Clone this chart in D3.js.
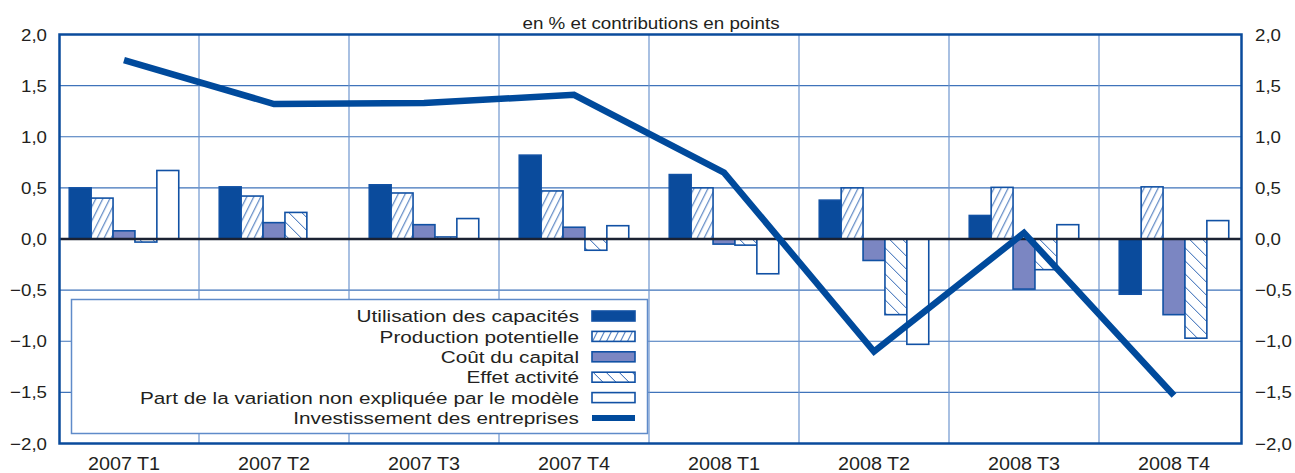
<!doctype html>
<html lang="fr">
<head>
<meta charset="utf-8">
<title>Investissement des entreprises</title>
<script src="https://d3js.org/d3.v7.min.js"></script>
<style>
    body { margin: 0; background: #fff; }
    svg text { font-family: "Liberation Sans", Arial, sans-serif; fill: #231f20; }
    .grid line { stroke: #3f73ba; stroke-width: 1.2px; }
    .vgrid line { stroke: #6f96cf; stroke-width: 1.2px; }
</style>
</head>
<body>
<svg width="1295" height="473"></svg>
<script>
// categories and series (en % et contributions en points)
var categories = ["2007 T1", "2007 T2", "2007 T3", "2007 T4", "2008 T1", "2008 T2", "2008 T3", "2008 T4"];
var series = ["Utilisation des capacités", "Production potentielle", "Coût du capital", "Effet activité",
              "Part de la variation non expliquée par le modèle", "Investissement des entreprises"];

var utilisation = [0.50, 0.51, 0.53, 0.82, 0.63, 0.38, 0.23, -0.54];
var production  = [0.40, 0.42, 0.45, 0.47, 0.50, 0.50, 0.505, 0.51];
var coutCapital = [0.08, 0.16, 0.14, 0.115, -0.05, -0.21, -0.49, -0.74];
var effetActivite = [-0.03, 0.26, 0.02, -0.11, -0.06, -0.74, -0.30, -0.97];
var nonExpliquee = [0.67, 0.0, 0.20, 0.13, -0.34, -1.03, 0.14, 0.18];
var investissement = [1.75, 1.32, 1.33, 1.41, 0.65, -1.10, 0.06, -1.53];

var yTicks = [-2, -1.5, -1, -0.5, 0, 0.5, 1, 1.5, 2];

var barSeries = [utilisation, production, coutCapital, effetActivite, nonExpliquee];
var blue = "#0a4b9c";
var fills = [blue, "url(#hatchUp)", "#7b86c2", "url(#hatchDown)", "#fff"];

var svg = d3.select("svg");
var plot = {left: 59.5, right: 1241.5, top: 34.5, bottom: 443.5};

var xScale = d3.scaleBand()
    .domain(categories)
    .range([49, 1249])
    .paddingInner(0.27)
    .paddingOuter(0.135);

var x1 = d3.scaleBand()
    .domain(d3.range(barSeries.length))
    .range([0, xScale.bandwidth()]);

var yScale = d3.scaleLinear()
    .domain([-2, 2])
    .range([plot.bottom, plot.top]);

var fmt = function(d) { return d3.format(".1f")(d).replace(".", ",").replace("-", "\u2212"); };

// the source lettering is a little wider than Liberation Sans, so stretch it
function place(x, y, sx) {
    return "translate(" + x + "," + y + ") scale(" + sx + ",1)";
}

// hatch patterns
var defs = svg.append("defs");
var pUp = defs.append("pattern")
    .attr("id", "hatchUp")
    .attr("patternUnits", "userSpaceOnUse")
    .attr("width", 7).attr("height", 14);
pUp.append("rect").attr("width", 7).attr("height", 14).attr("fill", "#fff");
pUp.append("path")
    .attr("d", "M0,14 L7,0 M-3.5,7 L0,0 M7,14 L10.5,7")
    .attr("stroke", "#2a62b2").attr("stroke-width", 1);

var pDown = defs.append("pattern")
    .attr("id", "hatchDown")
    .attr("patternUnits", "userSpaceOnUse")
    .attr("width", 13).attr("height", 13);
pDown.append("rect").attr("width", 13).attr("height", 13).attr("fill", "#fff");
pDown.append("path")
    .attr("d", "M0,0 L13,13 M-6.5,6.5 L0,13 M6.5,-6.5 L13,0")
    .attr("stroke", "#2a62b2").attr("stroke-width", 1);

// title
svg.append("text")
    .attr("transform", place(651, 29, 1.14))
    .attr("text-anchor", "middle")
    .style("font-size", "16.5px")
    .text("en % et contributions en points");

// horizontal grid
svg.append("g")
    .attr("class", "grid")
    .selectAll("line")
    .data(yTicks)
    .enter().append("line")
    .attr("x1", plot.left).attr("x2", plot.right)
    .attr("y1", function(d) { return yScale(d); })
    .attr("y2", function(d) { return yScale(d); });

// vertical grid between categories
svg.append("g")
    .attr("class", "vgrid")
    .selectAll("line")
    .data(categories.slice(0, -1))
    .enter().append("line")
    .attr("x1", function(d) { return xScale(d) + xScale.bandwidth() / 2 + xScale.step() / 2; })
    .attr("x2", function(d) { return xScale(d) + xScale.bandwidth() / 2 + xScale.step() / 2; })
    .attr("y1", plot.top).attr("y2", plot.bottom);

// bars
var groups = svg.append("g")
    .selectAll("g")
    .data(categories)
    .enter().append("g")
    .attr("transform", function(d) { return "translate(" + xScale(d) + ",0)"; });

groups.selectAll("rect")
    .data(function(d, i) { return barSeries.map(function(s, k) { return {k: k, v: s[i]}; }); })
    .enter().append("rect")
    .attr("x", function(d) { return x1(d.k); })
    .attr("width", x1.bandwidth())
    .attr("y", function(d) { return yScale(Math.max(0, d.v)); })
    .attr("height", function(d) { return Math.abs(yScale(d.v) - yScale(0)); })
    .attr("fill", function(d) { return fills[d.k]; })
    .attr("stroke", function(d) { return d.v === 0 ? "none" : "#1151a4"; })
    .attr("stroke-width", 1.6);

// zero line
svg.append("line")
    .attr("x1", plot.left).attr("x2", plot.right)
    .attr("y1", yScale(0)).attr("y2", yScale(0))
    .attr("stroke", "#1b2233").attr("stroke-width", 2.5);

// investment line
var line = d3.line()
    .x(function(d, i) { return xScale(categories[i]) + xScale.bandwidth() / 2; })
    .y(function(d) { return yScale(d); });

svg.append("path")
    .datum(investissement)
    .attr("fill", "none")
    .attr("stroke", "#004a9c")
    .attr("stroke-width", 6.5)
    .attr("stroke-linejoin", "miter")
    .attr("d", line);

// frame
svg.append("rect")
    .attr("x", plot.left).attr("y", plot.top)
    .attr("width", plot.right - plot.left)
    .attr("height", plot.bottom - plot.top)
    .attr("fill", "none")
    .attr("stroke", blue)
    .attr("stroke-width", 2.5);

// y tick labels, both sides
svg.append("g")
    .selectAll("text")
    .data(yTicks)
    .enter().append("text")
    .attr("transform", function(d) { return place(47, yScale(d), 1.1); })
    .attr("dy", "0.36em")
    .attr("text-anchor", "end")
    .style("font-size", "17px")
    .text(fmt);

svg.append("g")
    .selectAll("text")
    .data(yTicks)
    .enter().append("text")
    .attr("transform", function(d) { return place(1255, yScale(d), 1.1); })
    .attr("dy", "0.36em")
    .attr("text-anchor", "start")
    .style("font-size", "17px")
    .text(fmt);

// x labels
svg.append("g")
    .selectAll("text")
    .data(categories)
    .enter().append("text")
    .attr("transform", function(d) { return place(xScale(d) + xScale.bandwidth() / 2, 469.5, 1.04); })
    .attr("text-anchor", "middle")
    .style("font-size", "19px")
    .text(function(d) { return d; });

// legend
var lg = svg.append("g");
lg.append("rect")
    .attr("x", 71.5).attr("y", 299.5)
    .attr("width", 576).attr("height", 134)
    .attr("fill", "#fff")
    .attr("stroke", "#5f8bc9")
    .attr("stroke-width", 1.5);

var items = lg.selectAll("g.item")
    .data(series)
    .enter().append("g")
    .attr("class", "item")
    .attr("transform", function(d, i) { return "translate(0," + (316 + i * 20.4) + ")"; });

items.append("text")
    .attr("transform", place(579, 0, 1.22))
    .attr("dy", "0.36em")
    .attr("text-anchor", "end")
    .style("font-size", "17px")
    .text(function(d) { return d; });

items.filter(function(d, i) { return i < 5; })
    .append("rect")
    .attr("x", 592).attr("y", -5)
    .attr("width", 43).attr("height", 10)
    .attr("fill", function(d, i) { return fills[i]; })
    .attr("stroke", "#1151a4")
    .attr("stroke-width", 1.6);

items.filter(function(d, i) { return i === 5; })
    .append("line")
    .attr("x1", 592).attr("x2", 635)
    .attr("stroke", "#004a9c")
    .attr("stroke-width", 6);
</script>
</body>
</html>
